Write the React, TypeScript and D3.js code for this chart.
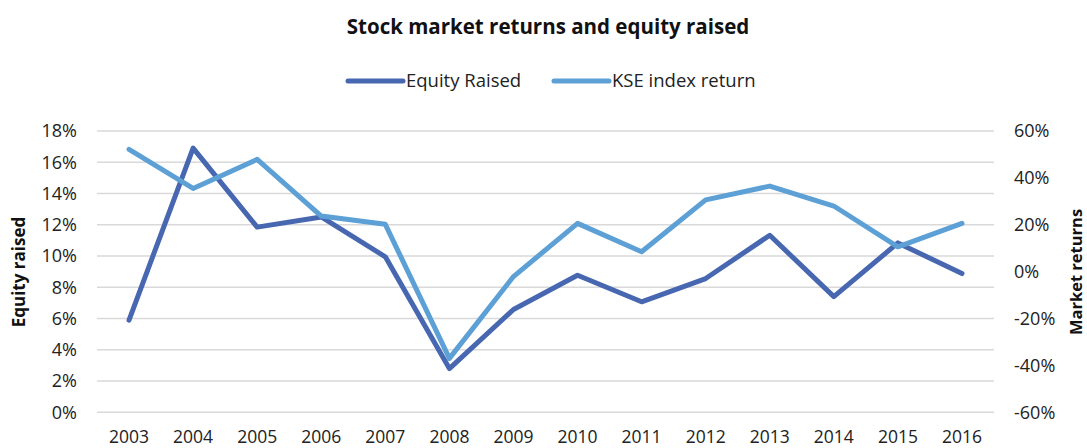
import React, { useEffect, useRef } from "react";
import * as d3 from "d3";

// chart data
const years = ["2003", "2004", "2005", "2006", "2007", "2008", "2009", "2010", "2011", "2012", "2013", "2014", "2015", "2016"];
const equityRaised = [0.059, 0.169, 0.1185, 0.125, 0.0995, 0.028, 0.0658, 0.0877, 0.0707, 0.0856, 0.1133, 0.074, 0.1084, 0.0888];
const kseReturn = [0.522, 0.355, 0.479, 0.237, 0.202, -0.37, -0.021, 0.206, 0.085, 0.306, 0.365, 0.28, 0.106, 0.206];
const leftTicks = [0, 0.02, 0.04, 0.06, 0.08, 0.1, 0.12, 0.14, 0.16, 0.18];
const rightTicks = [-0.6, -0.4, -0.2, 0, 0.2, 0.4, 0.6];

const seriesNames = ["Equity Raised", "KSE index return"];
const seriesColors = ["#4767B0", "#5CA0D5"];

const FONT = "'Open Sans', 'Noto Sans', sans-serif";

const App = () => {
  const svgRef = useRef<SVGSVGElement>(null);

  useEffect(() => {
    if (!svgRef.current) return;
    const width = 1087;
    const height = 448;
    const plot = { left: 97, right: 994, top: 131, bottom: 412.3 };

    const svg = d3.select(svgRef.current);
    svg.selectAll("*").remove();
    svg.attr("width", width).attr("height", height).style("font-family", FONT);

    // scales
    const x = d3.scaleBand().domain(years).range([plot.left, plot.right]).padding(0);
    const cx = (d: string) => (x(d) as number) + x.bandwidth() / 2;
    const yLeft = d3.scaleLinear().domain([0, 0.18]).range([plot.bottom, plot.top]);
    const yRight = d3.scaleLinear().domain([-0.6, 0.6]).range([plot.bottom, plot.top]);

    // gridlines
    svg.append("g")
      .selectAll("line")
      .data(leftTicks)
      .enter()
      .append("line")
      .attr("x1", plot.left)
      .attr("x2", plot.right)
      .attr("y1", (d) => yLeft(d))
      .attr("y2", (d) => yLeft(d))
      .attr("stroke", "#D9D9D9")
      .attr("stroke-width", 1.5);

    // left axis labels
    svg.append("g")
      .selectAll("text")
      .data(leftTicks)
      .enter()
      .append("text")
      .attr("x", 77)
      .attr("y", (d) => yLeft(d) + 6.3)
      .attr("text-anchor", "end")
      .attr("font-size", 18)
      .attr("fill", "#222")
      .text((d) => d3.format(".0%")(d));

    // right axis labels
    svg.append("g")
      .selectAll("text")
      .data(rightTicks)
      .enter()
      .append("text")
      .attr("x", 1014)
      .attr("y", (d) => yRight(d) + 6.3)
      .attr("text-anchor", "start")
      .attr("font-size", 18)
      .attr("fill", "#222")
      .text((d) => d3.format(".0%")(d).replace("−", "-"));

    // x axis labels
    svg.append("g")
      .selectAll("text")
      .data(years)
      .enter()
      .append("text")
      .attr("x", (d) => cx(d))
      .attr("y", 443)
      .attr("text-anchor", "middle")
      .attr("font-size", 17.5)
      .attr("fill", "#222")
      .text((d) => d);

    // axis titles
    svg.append("text")
      .attr("transform", `translate(25, 272) rotate(-90)`)
      .attr("text-anchor", "middle")
      .attr("font-size", 17)
      .attr("font-weight", "bold")
      .attr("fill", "#111")
      .text("Equity raised");

    svg.append("text")
      .attr("transform", `translate(1082, 272) rotate(-90)`)
      .attr("text-anchor", "middle")
      .attr("font-size", 16.5)
      .attr("font-weight", "bold")
      .attr("fill", "#111")
      .text("Market returns");

    // lines - equity first, KSE on top
    const lineLeft = d3.line<number>().x((d, i) => cx(years[i])).y((d) => yLeft(d));
    const lineRight = d3.line<number>().x((d, i) => cx(years[i])).y((d) => yRight(d));

    svg.append("path")
      .attr("d", lineLeft(equityRaised))
      .attr("fill", "none")
      .attr("stroke", seriesColors[0])
      .attr("stroke-width", 5)
      .attr("stroke-linejoin", "round")
      .attr("stroke-linecap", "round");

    svg.append("path")
      .attr("d", lineRight(kseReturn))
      .attr("fill", "none")
      .attr("stroke", seriesColors[1])
      .attr("stroke-width", 5)
      .attr("stroke-linejoin", "round")
      .attr("stroke-linecap", "round");

    // title
    svg.append("text")
      .attr("x", 548)
      .attr("y", 34)
      .attr("text-anchor", "middle")
      .attr("font-size", 20.5)
      .attr("font-weight", "bold")
      .attr("fill", "#111")
      .text("Stock market returns and equity raised");

    // legend
    const legendX = [348, 554];
    const legend = svg.append("g")
      .selectAll("g")
      .data(seriesNames)
      .enter()
      .append("g")
      .attr("transform", (d, i) => `translate(${legendX[i]}, 81)`);

    legend.append("line")
      .attr("x1", 0)
      .attr("x2", 55)
      .attr("y1", 0)
      .attr("y2", 0)
      .attr("stroke", (d, i) => seriesColors[i])
      .attr("stroke-width", 5)
      .attr("stroke-linecap", "round");

    legend.append("text")
      .attr("x", 58)
      .attr("y", 6.3)
      .attr("font-size", 18.5)
      .attr("fill", "#222")
      .text((d) => d);
  }, []);

  return (
    <div style={{ position: "absolute", left: 0, top: 0, background: "#fff" }}>
      <svg ref={svgRef}></svg>
    </div>
  );
};

export default App;
